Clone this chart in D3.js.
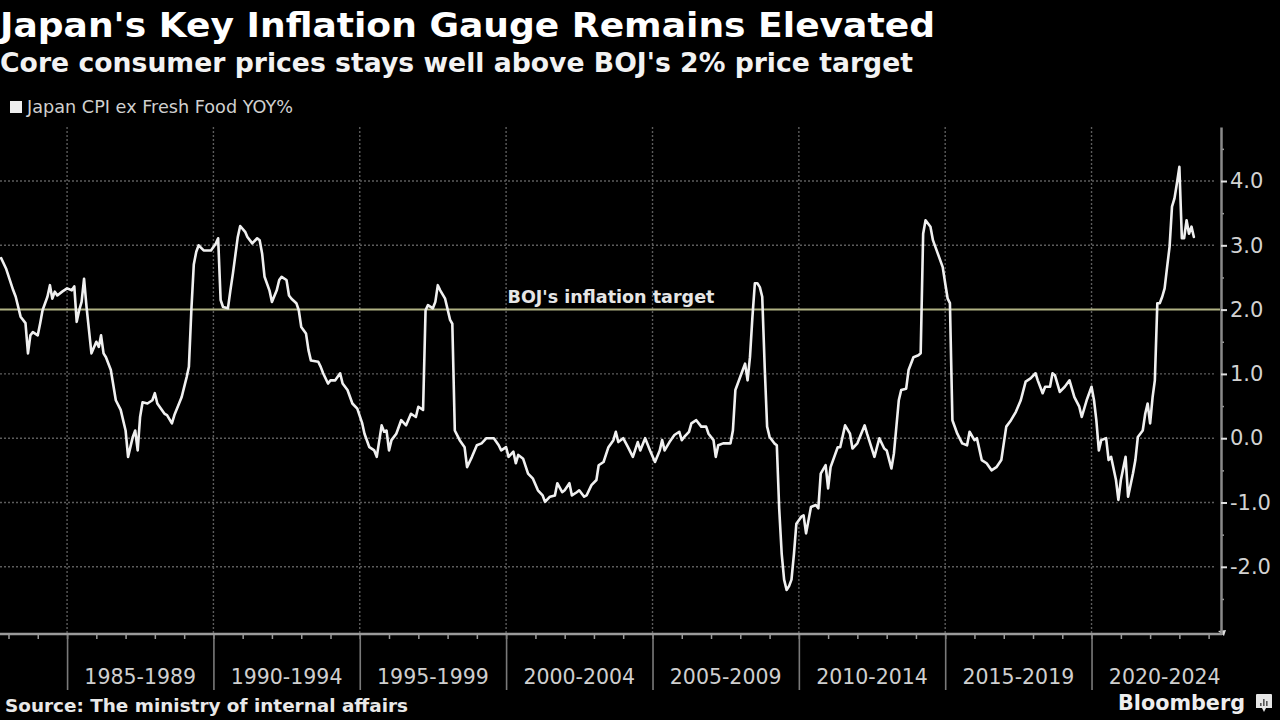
<!DOCTYPE html>
<html><head><meta charset="utf-8">
<script src="https://cdn.jsdelivr.net/npm/d3@7"></script>
<style>html,body{margin:0;padding:0;background:#000;overflow:hidden}</style>
</head><body><svg id="c" width="1280" height="720"></svg>
<script>
// ---- data ----
const months = [
"1982-10","1982-12","1983-03","1983-04","1983-06","1983-08","1983-09","1983-10","1983-11","1984-01","1984-02","1984-03","1984-05","1984-06","1984-07","1984-08","1984-09","1984-11",
"1985-01","1985-03","1985-04","1985-05","1985-06","1985-07","1985-08","1985-09","1985-11","1986-01","1986-02","1986-03","1986-04","1986-05","1986-07","1986-09","1986-11",
"1987-01","1987-02","1987-04","1987-05","1987-06","1987-07","1987-08","1987-10","1987-12","1988-01","1988-02","1988-05","1988-06","1988-08","1988-09","1988-12",
"1989-02","1989-03","1989-04","1989-05","1989-06","1989-07","1989-09","1989-12","1990-02","1990-03","1990-04","1990-05","1990-07","1990-08","1990-09","1990-11","1990-12",
"1991-02","1991-03","1991-05","1991-07","1991-08","1991-09","1991-10","1991-12","1992-01","1992-03","1992-04","1992-05","1992-07","1992-08","1992-09","1992-11","1992-12",
"1993-01","1993-03","1993-04","1993-05","1993-08","1993-09","1993-10","1993-12","1994-01","1994-03","1994-05","1994-06","1994-08","1994-10","1994-12",
"1995-02","1995-03","1995-05","1995-07","1995-08","1995-10","1995-11","1995-12","1996-01","1996-02","1996-04","1996-06","1996-08","1996-10","1996-12",
"1997-01","1997-03","1997-04","1997-05","1997-07","1997-08","1997-09","1997-10","1997-12","1998-02","1998-03","1998-04","1998-06","1998-08","1998-09","1998-11",
"1999-01","1999-03","1999-05","1999-08","1999-10","1999-11","2000-01","2000-02","2000-04","2000-05","2000-06","2000-08","2000-10","2000-12",
"2001-02","2001-04","2001-05","2001-07","2001-09","2001-10","2001-12","2002-01","2002-03","2002-04","2002-06","2002-07","2002-09","2002-10","2002-12",
"2003-02","2003-03","2003-05","2003-07","2003-09","2003-10","2003-11","2004-01","2004-03","2004-05","2004-07","2004-08","2004-10","2004-12",
"2005-02","2005-04","2005-05","2005-06","2005-08","2005-10","2005-12","2006-01","2006-02","2006-04","2006-05","2006-07","2006-09","2006-11","2006-12",
"2007-02","2007-03","2007-04","2007-06","2007-09","2007-10","2007-11","2007-12","2008-02","2008-03","2008-04","2008-05","2008-06","2008-07","2008-08","2008-09","2008-10","2008-11","2008-12",
"2009-01","2009-03","2009-04","2009-05","2009-06","2009-07","2009-08","2009-09","2009-10","2009-11","2009-12",
"2010-02","2010-03","2010-04","2010-06","2010-08","2010-09","2010-10","2010-12","2011-01","2011-02","2011-05","2011-06","2011-08","2011-10","2011-11",
"2012-01","2012-04","2012-05","2012-08","2012-10","2012-12","2013-01","2013-03","2013-04","2013-06","2013-07","2013-09","2013-10","2013-12",
"2014-02","2014-03","2014-04","2014-05","2014-07","2014-08","2014-10","2014-12","2015-01","2015-02","2015-03","2015-04","2015-06","2015-08","2015-10","2015-11",
"2016-01","2016-02","2016-04","2016-06","2016-08","2016-10","2016-12","2017-02","2017-04","2017-06","2017-08","2017-10","2017-12",
"2018-02","2018-03","2018-05","2018-06","2018-08","2018-09","2018-10","2018-12","2019-02","2019-04","2019-06","2019-08","2019-09","2019-11",
"2020-01","2020-02","2020-03","2020-04","2020-05","2020-07","2020-08","2020-09","2020-11","2020-12","2021-01","2021-03","2021-04","2021-06","2021-07","2021-08","2021-10","2021-11","2021-12",
"2022-01","2022-02","2022-03","2022-04","2022-05","2022-06","2022-07","2022-08","2022-09","2022-10","2022-11","2022-12",
"2023-01","2023-02","2023-03","2023-04","2023-05","2023-06","2023-07"
];
const cpi = [
2.80,2.64,2.30,2.20,1.89,1.79,1.32,1.60,1.65,1.60,1.79,1.99,2.20,2.38,2.17,2.28,2.22,2.28,
2.33,2.30,2.36,1.81,1.99,2.12,2.48,2.04,1.32,1.50,1.42,1.60,1.32,1.26,1.06,0.59,0.44,
0.12,-0.29,0.02,0.12,-0.19,0.33,0.56,0.54,0.59,0.70,0.54,0.38,0.36,0.23,0.36,0.64,
0.95,1.11,2.00,2.70,2.90,3.00,2.92,2.92,3.03,3.11,2.15,2.04,2.02,2.30,2.56,3.13,3.30,
3.21,3.13,3.03,3.11,3.08,2.87,2.51,2.30,2.12,2.30,2.46,2.51,2.46,2.22,2.17,2.10,1.99,
1.73,1.63,1.37,1.21,1.19,1.11,1.01,0.85,0.90,0.90,1.01,0.85,0.75,0.54,0.46,
0.23,0.07,-0.14,-0.19,-0.29,0.20,0.10,0.12,-0.19,-0.03,0.07,0.28,0.20,0.38,0.33,
0.49,0.44,1.99,2.07,2.02,2.12,2.38,2.30,2.17,1.84,1.78,0.12,-0.03,-0.14,-0.45,-0.29,
-0.11,-0.08,0.00,0.00,-0.11,-0.19,-0.14,-0.29,-0.21,-0.39,-0.26,-0.32,-0.55,-0.63,
-0.81,-0.89,-0.99,-0.91,-0.89,-0.70,-0.84,-0.81,-0.70,-0.89,-0.84,-0.81,-0.91,-0.89,-0.73,
-0.65,-0.42,-0.37,-0.14,-0.03,0.10,-0.06,0.00,-0.14,-0.29,-0.06,-0.19,0.00,-0.19,
-0.37,-0.19,-0.03,-0.19,-0.06,0.05,0.10,-0.03,0.02,0.10,0.23,0.28,0.18,0.18,0.07,
-0.03,-0.29,-0.11,-0.08,-0.08,0.12,0.75,0.85,1.06,1.16,0.90,1.26,1.89,2.41,2.41,2.35,2.20,1.10,0.18,
0.02,-0.08,-0.11,-1.10,-1.80,-2.20,-2.36,-2.30,-2.20,-1.80,-1.33,
-1.22,-1.20,-1.48,-1.07,-1.04,-1.09,-0.55,-0.42,-0.78,-0.45,-0.14,-0.14,0.20,0.07,-0.16,
-0.08,0.20,0.07,-0.29,0.00,-0.16,-0.19,-0.47,-0.24,0.59,0.75,0.77,1.06,1.26,
1.29,1.32,3.18,3.39,3.29,3.08,2.87,2.66,2.41,2.17,2.10,0.28,0.07,-0.08,-0.11,0.10,
-0.03,0.00,-0.34,-0.39,-0.50,-0.45,-0.34,0.18,0.28,0.41,0.59,0.88,0.93,
1.01,0.90,0.70,0.80,0.80,1.01,0.98,0.72,0.80,0.90,0.64,0.49,0.33,0.59,
0.80,0.59,0.28,-0.19,-0.03,0.00,-0.34,-0.29,-0.65,-0.96,-0.65,-0.29,-0.91,-0.55,-0.34,0.02,0.12,0.38,0.54,
0.23,0.64,0.90,2.10,2.10,2.20,2.33,2.66,2.98,3.60,3.73,3.96,
4.22,3.11,3.11,3.39,3.18,3.29,3.13
];
const yTicks = [-2, -1, 0, 1, 2, 3, 4];
const yMinorTicks = [-2.5, -1.5, -0.5, 0.5, 1.5, 2.5, 3.5, 4.5];
const periodStarts = [1985, 1990, 1995, 2000, 2005, 2010, 2015, 2020];
const periodLabels = ["1985-1989","1990-1994","1995-1999","2000-2004","2005-2009","2010-2014","2015-2019","2020-2024"];
const targetValue = 2;
const targetLabel = "BOJ's inflation target";
const seriesName = "Japan CPI ex Fresh Food YOY%";
const titleText = "Japan's Key Inflation Gauge Remains Elevated";
const subtitleText = "Core consumer prices stays well above BOJ's 2% price target";
const sourceText = "Source: The ministry of internal affairs";

// ---- drawing ----
const parse = d3.timeParse("%Y-%m");
const data = months.map((m, i) => ({date: parse(m), v: cpi[i]}));

const svg = d3.select("#c");
svg.append("rect").attr("width",1280).attr("height",720).attr("fill","#000");

const plotTop = 127, plotBottom = 634, plotLeft = 0, plotRight = 1221;
const x = d3.scaleTime()
  .domain([new Date(1982, 8, 17), new Date(2024, 4, 22)])
  .range([plotLeft, 1220]);
const y = d3.scaleLinear().domain([-3.045, 4.84]).range([plotBottom, plotTop]);

const FONT = "'DejaVu Sans', Verdana, sans-serif";

// title / subtitle
svg.append("text").attr("x",0).attr("y",37).text(titleText)
  .attr("font-family",FONT).attr("font-weight","bold").attr("font-size",34)
  .attr("fill","#ffffff").attr("textLength",935).attr("lengthAdjust","spacingAndGlyphs");
svg.append("text").attr("x",0).attr("y",72).text(subtitleText)
  .attr("font-family",FONT).attr("font-weight","bold").attr("font-size",27)
  .attr("fill","#f2f2f2").attr("textLength",913).attr("lengthAdjust","spacingAndGlyphs");

// legend
svg.append("rect").attr("x",10).attr("y",101).attr("width",12).attr("height",12).attr("fill","#eeeeee");
svg.append("text").attr("x",27).attr("y",113).text(seriesName)
  .attr("font-family",FONT).attr("font-size",17).attr("fill","#d0d0d0")
  .attr("textLength",266).attr("lengthAdjust","spacingAndGlyphs");

// gridlines
const grid = svg.append("g");
grid.selectAll("line.h").data(yTicks.filter(t => t !== targetValue)).join("line")
  .attr("x1",plotLeft).attr("x2",1216).attr("y1",d=>y(d)).attr("y2",d=>y(d))
  .attr("stroke","#5c5c5c").attr("stroke-width",1.4).attr("stroke-dasharray","2,2");
grid.selectAll("line.v").data(periodStarts).join("line")
  .attr("x1",d=>x(new Date(d,0,1))).attr("x2",d=>x(new Date(d,0,1)))
  .attr("y1",plotTop).attr("y2",plotBottom)
  .attr("stroke","#5c5c5c").attr("stroke-width",1.4).attr("stroke-dasharray","2,2");

// target line
svg.append("line").attr("x1",plotLeft).attr("x2",1220)
  .attr("y1",y(targetValue)).attr("y2",y(targetValue))
  .attr("stroke","#b0b283").attr("stroke-width",2);
svg.append("text").attr("x",611).attr("y",y(targetValue)-7).attr("text-anchor","middle")
  .text(targetLabel).attr("font-family",FONT).attr("font-weight","bold").attr("font-size",17)
  .attr("fill","#e6e6e6").attr("textLength",207).attr("lengthAdjust","spacingAndGlyphs");

// series line
svg.append("path").datum(data)
  .attr("d", d3.line().x(d => x(d.date)).y(d => y(d.v)))
  .attr("fill","none").attr("stroke","#f0f0f0").attr("stroke-width",2.6)
  .attr("stroke-linejoin","round").attr("stroke-linecap","round");

// bottom axis: minor year ticks
const gxMinor = svg.append("g").attr("transform",`translate(0,${plotBottom})`)
  .call(d3.axisBottom(x).ticks(d3.timeYear.every(1)).tickSize(5).tickFormat(""));
gxMinor.select(".domain").remove();
gxMinor.selectAll(".tick line").attr("stroke","#9a9a9a").attr("stroke-width",1.5);

// bottom axis: 5-year separators
const gxSep = svg.append("g").attr("transform",`translate(0,${plotBottom})`)
  .call(d3.axisBottom(x).tickValues(periodStarts.map(d => new Date(d,0,1))).tickSize(56).tickFormat(""));
gxSep.select(".domain").remove();
gxSep.selectAll(".tick line").attr("stroke","#7a7a7a").attr("stroke-width",1.6);

// axis baseline
svg.append("line").attr("x1",plotLeft).attr("x2",1222).attr("y1",plotBottom).attr("y2",plotBottom)
  .attr("stroke","#9a9a9a").attr("stroke-width",2.5);
svg.append("path").attr("d",`M1218,${plotBottom-3}L1226,${plotBottom-4}L1224,${plotBottom+2}Z`).attr("fill","#dddddd");

// period labels
svg.append("g").selectAll("text").data(periodStarts).join("text")
  .attr("x",(d,i) => (x(new Date(d,0,1)) + x(new Date(d+5,0,1)))/2)
  .attr("y",684).attr("text-anchor","middle")
  .text((d,i) => periodLabels[i])
  .attr("font-family",FONT).attr("font-size",20.5).attr("fill","#cfcfcf");

// right axis
const fmt = d => d3.format(".1f")(d).replace("\u2212","-");
const gyMinor = svg.append("g").attr("transform",`translate(${plotRight},0)`)
  .call(d3.axisRight(y).tickValues(yMinorTicks.filter(t => t < 4.84)).tickSize(3).tickSizeOuter(0).tickFormat(""));
gyMinor.select(".domain").remove();
gyMinor.selectAll(".tick line").attr("stroke","#9a9a9a").attr("stroke-width",1.5);

const gy = svg.append("g").attr("transform",`translate(${plotRight},0)`)
  .call(d3.axisRight(y).tickValues(yTicks).tickSize(6).tickSizeOuter(0).tickPadding(3).tickFormat(fmt));
gy.select(".domain").attr("stroke","#8a8a8a").attr("stroke-width",2.5);
gy.selectAll(".tick line").attr("stroke","#e0e0e0").attr("stroke-width",2);
gy.selectAll(".tick text").attr("font-family",FONT).attr("font-size",21).attr("fill","#d2d2d2");

// source and brand
svg.append("text").attr("x",5).attr("y",712).text(sourceText)
  .attr("font-family",FONT).attr("font-weight","bold").attr("font-size",17)
  .attr("fill","#e8e8e8").attr("textLength",403).attr("lengthAdjust","spacingAndGlyphs");
svg.append("text").attr("x",1118).attr("y",710).text("Bloomberg")
  .attr("font-family",FONT).attr("font-weight","bold").attr("font-size",21)
  .attr("fill","#eeeeee").attr("textLength",127).attr("lengthAdjust","spacingAndGlyphs");
const logo = svg.append("g").attr("transform","translate(1256,694)");
logo.append("path").attr("d","M1,0H15A1,1 0 0 1 16,1V14H10L8,18L6,14H0V1A1,1 0 0 1 1,0Z").attr("fill","#e6e6e6");
logo.append("rect").attr("x",4).attr("y",9).attr("width",1.6).attr("height",3).attr("fill","#555");
logo.append("rect").attr("x",7).attr("y",5).attr("width",1.6).attr("height",7).attr("fill","#555");
logo.append("rect").attr("x",10).attr("y",7).attr("width",1.6).attr("height",5).attr("fill","#555");
</script>
</body></html>
